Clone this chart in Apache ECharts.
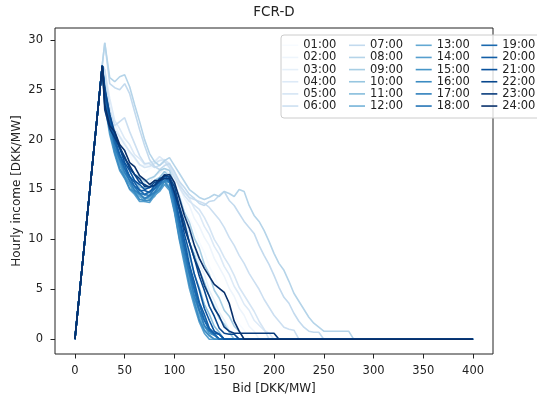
<!DOCTYPE html>
<html><head><meta charset="utf-8">
<script src="https://cdn.jsdelivr.net/npm/echarts@6/dist/echarts.min.js"></script>
<style>html,body{margin:0;padding:0;background:#fff}#c{width:537px;height:396px}</style>
</head><body><div id="c"></div>
<script>
// Bid grid (DKK/MW); each series lists incomes on this grid until it reaches 0,
// after which it stays at 0 up to the last bid (400).
const bids = [0,27.5,30,35,40,45,50,55,60,65,70,75,80,85,90,95,100,105,110,115,120,125,130,135,140,145,150,155,160,165,170,175,180,185,190,195,200,205,210,215,220,225,230,235,240,245,250,255,260,265,270,275,280];
const lastBid = 400;
const hours = ['01:00','02:00','03:00','04:00','05:00','06:00','07:00','08:00','09:00','10:00','11:00','12:00','13:00','14:00','15:00','16:00','17:00','18:00','19:00','20:00','21:00','22:00','23:00','24:00'];
const xTicks = [0,50,100,150,200,250,300,350,400];
const yTicks = [0,5,10,15,20,25,30];

const h01 = [0,27.4,26,23.2,20.8,20.1,19.0,18.5,17.4,17.1,16.7,17.1,17.3,17.9,17.5,17.0,15.9,14.5,13.5,12.1,11.1,9.7,8.7,7.3,6.3,5.1,4.3,3.1,2.5,1.5,0.9,0];
const h02 = [0,27.4,26.5,23.4,21.6,20.4,19.7,18.7,18.1,17.4,17.4,17.4,17.9,17.9,17.9,17.1,16.2,15.2,14.1,13.4,12.1,11.3,10.2,9.4,8.1,7.2,6.3,5.1,4.3,3.1,2.4,1.3,0.8,0];
const h03 = [0,27.4,25.2,21.8,19.9,18.5,17.7,16.7,16.3,15.7,15.7,15.7,16.4,16.7,17.1,16.5,15.3,13.5,12.3,10.5,9.3,7.5,6.5,4.9,3.9,2.7,1.9,0.9,0.6,0];
const h04 = [0,27.4,27,24.1,21.9,21.1,20.1,19.5,18.5,18.1,17.5,17.7,17.8,18.3,17.9,17.5,16.5,15.7,14.7,14.1,13.1,12.5,11.3,10.5,9.3,8.5,7.3,6.5,5.3,4.5,3.5,2.9,1.9,1.4,0.9,0.6,0];
const h05 = [0,27.5,26,22.5,21.0,20.3,19.5,18.8,18.2,17.5,17.2,17.3,17.6,17.9,18.0,17.6,16.5,15.2,14.4,13.8,13.4,13.0,12.2,11.2,10.0,9.2,8.2,7.4,6.4,5.2,4.4,3.6,2.8,1.8,1.0,0];
const h06 = [0,27.5,27,23,21.4,21.8,22.2,20.8,19.6,18.4,17.6,17.6,17.2,17.4,17.8,17.2,16.2,15.4,14.8,14.2,14.0,13.8,13.6,13.2,12.6,12.0,11.2,10.2,9.4,8.4,7.6,6.6,5.8,5.0,4.0,3.2,2.4,1.8,1.2,1.0,0.9,0];
const h07 = [0,27.5,29.7,25.6,25.2,25.0,25.6,24.6,22.8,21.0,19.4,18.0,17.3,17.0,17.4,17.6,16.8,15.8,15.2,14.5,14.1,13.6,13.4,13.8,13.9,14.4,14.8,13.9,13.4,12.6,11.8,11.2,10.6,9.4,8.4,7.5,6.4,5.2,4.2,3.6,2.6,1.8,1.2,0.8,0.7,0.7,0];
const h08 = [0,27.5,29.7,26.2,25.8,26.3,26.5,25.3,23.5,21.8,20.0,18.6,17.8,17.4,17.9,18.2,17.4,16.6,15.8,15.0,14.6,14.2,14.0,14.2,14.5,14.3,14.8,14.6,14.3,15.0,14.8,13.4,12.4,11.8,10.9,9.8,8.6,7.6,6.9,5.8,4.6,3.8,3.0,2.2,1.6,1.2,0.8,0.8,0.8,0.8,0.8,0.8,0];
const h09 = [0,27.4,25.5,22.2,19.8,19.1,17.9,17.3,16.5,16.3,15.8,16.1,16.3,16.9,17.1,16.9,15.5,14.3,12.7,11.7,10.1,9.1,7.5,6.5,4.9,4.1,2.9,2.3,1.3,0.8,0];
const h10 = [0,27.4,25,21.4,19.5,18.1,17.3,16.3,15.9,15.2,15.2,15.2,15.9,16.2,16.8,16.3,14.9,12.9,11.5,9.7,8.5,6.9,5.7,4.3,3.3,2.1,1.5,0.7,0];
const h11 = [0,27.4,24.5,21.1,18.9,17.9,16.7,15.9,15.1,14.8,14.4,14.7,15.0,15.8,16.1,15.9,13.9,12.1,9.9,8.3,6.5,5.1,3.5,2.5,1.3,0.7,0];
const h12 = [0,27.4,24,20.9,19.1,17.5,16.6,15.5,15.0,14.3,14.2,14.1,14.8,15.2,15.9,15.3,13.5,11.1,9.1,6.9,5.3,3.5,2.3,1.1,0.6,0];
const h13 = [0,27.4,24,21.1,18.7,17.5,16.2,15.5,14.6,14.3,13.8,14.0,14.3,15.1,15.5,15.3,12.9,10.5,7.9,5.9,3.7,2.3,0.9,0.3,0];
const h14 = [0,27.4,23.5,20.5,18.5,16.9,16.1,15.0,14.5,13.8,13.8,13.7,14.4,14.8,15.5,14.9,12.7,9.9,7.5,5.1,3.3,1.7,0.6,0];
const h15 = [0,27.4,24.2,21.3,18.9,17.7,16.3,15.6,14.7,14.5,14.0,14.3,14.6,15.4,15.8,15.7,13.3,10.9,8.3,6.3,4.1,2.7,1.3,0.6,0.4,0];
const h16 = [0,27.4,24,20.9,18.7,17.1,16.2,15.1,14.7,14.0,13.9,13.9,14.6,15.0,15.8,15.1,12.9,10.1,7.9,5.5,3.7,1.9,0.9,0.4,0];
const h17 = [0,27.4,24.5,21.7,19.2,18.0,16.7,15.9,14.9,14.6,14.1,14.4,14.7,15.5,15.9,15.8,13.5,11.1,8.5,6.5,4.3,2.9,1.4,0.8,0.4,0];
const h18 = [0,27.4,24.8,21.7,19.7,18.1,17.1,15.9,15.3,14.6,14.5,14.4,15.1,15.5,16.2,15.7,14.1,11.3,9.1,6.7,4.9,2.9,1.9,0.9,0.5,0];
const h19 = [0,27.4,24.6,21.9,19.7,18.5,17.1,16.3,15.3,15.0,14.5,14.8,15.1,15.8,16.1,16.0,14.1,11.9,9.3,7.3,5.1,3.5,1.9,1.0,0.5,0];
const h20 = [0,27.4,24.8,21.9,20.1,18.5,17.5,16.3,15.7,14.9,14.9,14.7,15.4,15.7,16.4,15.9,14.5,12.1,9.9,7.5,5.7,3.7,2.5,1.1,0.6,0.5,0];
const h21 = [0,27.4,25,22.5,20.3,19.1,17.7,16.9,15.9,15.5,15.0,15.2,15.4,16.1,16.3,16.3,14.7,12.9,10.5,8.7,6.5,4.9,3.1,1.9,0.8,0.5,0];
const h22 = [0,27.4,25.2,22.5,20.7,19.2,18.3,17.1,16.5,15.7,15.5,15.2,15.7,15.9,16.5,16.2,15.3,13.3,11.7,9.7,8.1,6.3,4.9,3.3,2.3,1.1,0.6,0.5,0.5,0];
const h23 = [0,27.4,23,21.1,20.2,19.3,18.1,17.4,16.5,16.1,15.3,15.3,15.4,15.9,16.1,16.1,14.7,13.1,11.1,9.7,8.1,6.9,5.4,4.3,3.1,2.3,1.2,0.8,0.6,0.6,0.6,0.6,0.6,0.6,0.6,0.6,0.6,0];
const h24 = [0,27.4,23.5,21.4,20.8,19.5,18.9,17.7,17.3,16.4,16.0,15.5,15.9,15.9,16.4,16.5,15.7,14.1,12.4,11.1,9.4,8.1,7.1,6.3,5.5,5.1,4.7,3.6,1.8,0.8,0];

const incomes = [h01,h02,h03,h04,h05,h06,h07,h08,h09,h10,h11,h12,h13,h14,h15,h16,h17,h18,h19,h20,h21,h22,h23,h24];

// matplotlib "Blues" colormap
const stops = ['#f7fbff','#deebf7','#c6dbef','#9ecae1','#6baed6','#4292c6','#2171b5','#08519c','#08306b'];
function hex(c){return [1,3,5].map(i=>parseInt(c.substr(i,2),16));}
function blues(t){
  const p = t*(stops.length-1), i = Math.min(Math.floor(p), stops.length-2), f = p-i;
  const a = hex(stops[i]), b = hex(stops[i+1]);
  return 'rgb(' + a.map((v,k)=>Math.round(v+(b[k]-v)*f)).join(',') + ')';
}

const font = 'DejaVu Sans';
const txt = '#222';
const series = hours.map((h, i) => {
  const vals = incomes[i];
  const data = vals.map((v, k) => [bids[k], v]);
  data.push([lastBid, 0]);
  return {
    name: h, type: 'line', data: data, symbol: 'none', smooth: false,
    lineStyle: {width: 1.6, color: blues(i/23)}, itemStyle: {color: blues(i/23)},
    emphasis: {disabled: true}, animation: false
  };
});

const legendCols = [303.3, 370, 436.7, 502.3];
const legends = legendCols.map((x, c) => ({
  orient: 'vertical', left: x - 21, top: 39.3, padding: 0,
  itemWidth: 16, itemHeight: 12, itemGap: 0.15,
  icon: 'path://M0,0 L16,0 L16,1.6 L0,1.6 Z',
  data: hours.slice(c*6, c*6+6),
  textStyle: {fontFamily: font, fontSize: 11.5, color: txt, lineHeight: 12},
  selectedMode: false
}));

const chart = echarts.init(document.getElementById('c'), null, {renderer: 'canvas'});
chart.setOption({
  animation: false,
  backgroundColor: '#fff',
  title: {text: 'FCR-D', left: 274, textAlign: 'center', top: 5, padding: 0,
    textStyle: {fontFamily: font, fontSize: 13.5, fontWeight: 'normal', color: txt}},
  grid: {left: 55, right: 44, top: 28, bottom: 42, show: true, borderColor: '#222', borderWidth: 1,
    backgroundColor: 'transparent', containLabel: false, outerBoundsMode: 'none'},
  xAxis: {type: 'value', min: -20, max: 420,
    name: 'Bid [DKK/MW]', nameLocation: 'middle', nameGap: 29, nameMoveOverlap: false,
    nameTextStyle: {fontFamily: font, fontSize: 12, color: txt},
    axisLine: {show: false, onZero: false}, splitLine: {show: false},
    axisTick: {show: true, length: 4.5, lineStyle: {color: '#222'}, customValues: xTicks},
    axisLabel: {fontFamily: font, fontSize: 11.5, color: txt, margin: 11, customValues: xTicks}},
  yAxis: {type: 'value', min: -1.485, max: 31.185,
    name: 'Hourly income [DKK/MW]', nameLocation: 'middle', nameGap: 32, nameRotate: 90, nameMoveOverlap: false,
    nameTextStyle: {fontFamily: font, fontSize: 12, color: txt},
    axisLine: {show: false, onZero: false}, splitLine: {show: false},
    axisTick: {show: true, length: 4.5, lineStyle: {color: '#222'}, customValues: yTicks},
    axisLabel: {fontFamily: font, fontSize: 11.5, color: txt, margin: 12, customValues: yTicks}},
  legend: legends,
  graphic: [{type: 'rect', z: 3, silent: true,
    shape: {x: 281, y: 35, width: 280, height: 83, r: 3},
    style: {fill: 'rgba(255,255,255,0.8)', stroke: '#cccccc', lineWidth: 1}}],
  series: series
});
</script>
</body></html>
